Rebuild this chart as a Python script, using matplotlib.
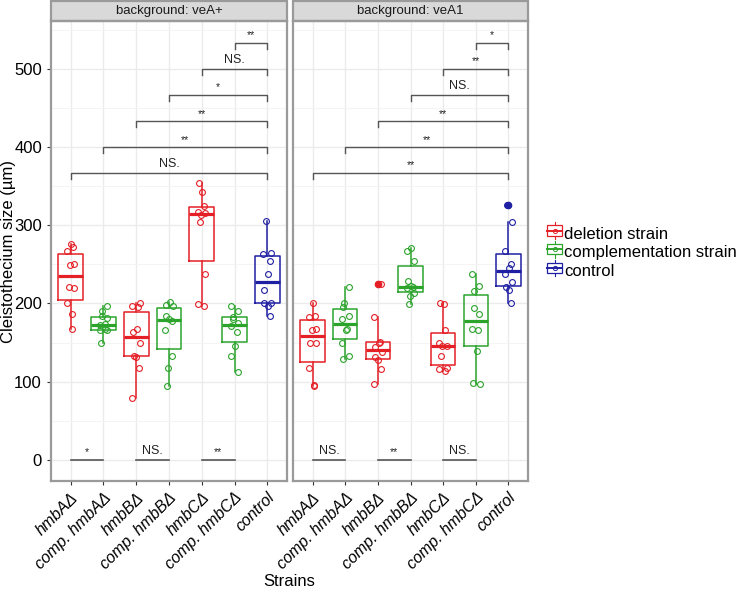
import numpy as np
import matplotlib
matplotlib.use("Agg")
from matplotlib import pyplot as plt
from matplotlib.patches import Rectangle
from matplotlib.lines import Line2D
from matplotlib.legend_handler import HandlerBase

plt.rcParams['font.family'] = ['Liberation Sans', 'DejaVu Sans']

# strains on the x axis
strains = ["hmbAΔ", "comp. hmbAΔ", "hmbBΔ", "comp. hmbBΔ", "hmbCΔ", "comp. hmbCΔ", "control"]
# type of strain: 0 deletion, 1 complementation, 2 control
strain_type = [0, 1, 0, 1, 0, 1, 2]
type_names = ["deletion strain", "complementation strain", "control"]
colors = ["#E41F26", "#2CA42C", "#1F1FA3"]

# cleistothecium sizes (um)
veAplus = [
    [276, 272, 267, 250, 249, 221, 220, 200, 187, 167],
    [197, 190, 184, 181, 172, 174, 167, 166, 166, 150],
    [200, 197, 196, 167, 163, 150, 133, 132, 117, 79],
    [202, 198, 197, 184, 180, 178, 166, 133, 117, 95],
    [354, 342, 325, 317, 316, 313, 304, 237, 199, 197],
    [197, 190, 183, 180, 175, 171, 163, 146, 133, 112],
    [305, 265, 263, 254, 237, 217, 201, 200, 197, 184],
]
veA1 = [
    [200, 184, 183, 167, 166, 150, 149, 117, 96, 95],
    [221, 200, 196, 184, 180, 167, 166, 150, 133, 129],
    [225, 183, 151, 150, 144, 138, 132, 128, 116, 97],
    [271, 267, 254, 229, 222, 221, 220, 213, 210, 199],
    [200, 199, 166, 150, 146, 145, 133, 117, 116, 113],
    [237, 222, 216, 194, 187, 167, 166, 139, 98, 97],
    [326, 304, 267, 250, 245, 237, 227, 221, 217, 200],
]

# significance brackets: each strain vs control (top) and deletion vs complementation (bottom)
top_pairs = [(1, 7), (2, 7), (3, 7), (4, 7), (5, 7), (6, 7)]
top_heights = [367, 400, 433, 467, 500, 533]
top_labels_p1 = ["NS.", "**", "**", "*", "NS.", "**"]
top_labels_p2 = ["**", "**", "**", "NS.", "**", "*"]
bottom_pairs = [(1, 2), (3, 4), (5, 6)]
bottom_labels_p1 = ["*", "NS.", "**"]
bottom_labels_p2 = ["NS.", "**", "NS."]

panels = [("background: veA+", veAplus, top_labels_p1, bottom_labels_p1),
          ("background: veA1", veA1, top_labels_p2, bottom_labels_p2)]

W, H = 737, 590
fig = plt.figure(figsize=(W / 100, H / 100), dpi=100)
ax1 = fig.add_axes([51 / W, (H - 481) / H, 236 / W, 460 / H])
ax2 = fig.add_axes([293 / W, (H - 481) / H, 235 / W, 460 / H], sharey=ax1)

border = "#9A9A9A"
bracket_col = "#555555"

for ax, (title, data, tlabels, blabels) in zip([ax1, ax2], panels):
    for i, vals in enumerate(data):
        pos = i + 1
        c = colors[strain_type[i]]
        ax.boxplot([vals], positions=[pos], widths=0.75, showcaps=False,
                   manage_ticks=False,
                   boxprops=dict(color=c, lw=1.1),
                   whiskerprops=dict(color=c, lw=1.1),
                   medianprops=dict(color=c, lw=2.3),
                   flierprops=dict(marker='o', markerfacecolor=c, markeredgecolor=c,
                                   markersize=4.5),
                   zorder=3)
        n = len(vals)
        offs = 0.12 * np.sin(np.arange(n) * 2.4 + i)
        ax.plot(pos + offs, vals, ls='none', marker='o', mfc='none', mec=c,
                ms=4.2, mew=0.8, zorder=4)

    for (a, b), h, lab in zip(top_pairs, top_heights, tlabels):
        ax.plot([a, a, b, b], [h - 8, h, h, h - 8], color=bracket_col, lw=1.0, zorder=5)
        ax.text((a + b) / 2, h + 3, lab, ha='center', va='bottom',
                fontsize=9 if lab == "NS." else 7.5, color="#222222")
    for (a, b), lab in zip(bottom_pairs, blabels):
        ax.plot([a, b], [0, 0], color=bracket_col, lw=1.2, zorder=5)
        ax.text((a + b) / 2, 4, lab, ha='center', va='bottom',
                fontsize=9 if lab == "NS." else 7.5, color="#222222")

    ax.set_xlim(0.4, 7.6)
    ax.set_ylim(-27, 561)
    ax.set_yticks([0, 100, 200, 300, 400, 500])
    ax.set_yticks([50, 150, 250, 350, 450, 550], minor=True)
    ax.set_xticks(range(1, 8))
    ax.set_xticklabels(strains, rotation=45, ha='right', rotation_mode='anchor',
                       fontsize=11.5, style='italic')
    ax.grid(True, which='major', color="#EBEBEB", lw=1.0, zorder=0)
    ax.grid(True, which='minor', axis='y', color="#F3F3F3", lw=0.6, zorder=0)
    ax.set_axisbelow(True)
    for s in ax.spines.values():
        s.set_color(border)
        s.set_linewidth(1.6)
    ax.tick_params(axis='both', which='major', length=3, color="#333333", width=0.8)
    ax.tick_params(axis='y', which='minor', length=0)

    ax.add_patch(Rectangle((0, 1), 1, 20 / 460, transform=ax.transAxes, clip_on=False,
                           facecolor="#D9D9D9", edgecolor=border, lw=1.6))
    ax.text(0.5, 1 + 10 / 460, title, transform=ax.transAxes, ha='center',
            va='center', fontsize=9.5, color="#1A1A1A")

ax1.tick_params(axis='y', labelsize=12)
ax2.tick_params(axis='y', labelleft=False, length=0)
fig.text(9 / W, 1 - 251 / H, "Cleistothecium size (µm)", rotation=90, ha='center',
         va='center', fontsize=12)
fig.text((51 + 528) / 2 / W, 1 / H, "Strains", ha='center', va='bottom', fontsize=12)


class BoxHandler(HandlerBase):
    def create_artists(self, legend, orig, xd, yd, width, height, fontsize, trans):
        c = orig.get_color()
        cx = xd + width / 2
        cy = yd + height / 2
        bw, bh = width * 0.95, height * 0.75
        arts = [
            Line2D([cx, cx], [yd - height * 0.1, yd + height * 1.1], color=c, lw=0.8),
            Rectangle((cx - bw / 2, cy - bh / 2), bw, bh, facecolor='white', edgecolor=c, lw=0.9),
            Line2D([cx - bw / 2, cx + bw / 2], [cy, cy], color=c, lw=1.4),
            Line2D([cx], [cy], marker='o', mfc='none', mec=c, ms=3, mew=0.7),
        ]
        for a in arts:
            a.set_transform(trans)
        return arts


handles = [Line2D([], [], color=c) for c in colors]
fig.legend(handles, type_names, loc='upper left', bbox_to_anchor=(547 / W, 1 - 226 / H),
           frameon=False, fontsize=12, handlelength=0.95, handleheight=0.9,
           handletextpad=0.1, labelspacing=0.18, borderpad=0, borderaxespad=0,
           handler_map={Line2D: BoxHandler()})

fig.savefig("out.png", dpi=100)
